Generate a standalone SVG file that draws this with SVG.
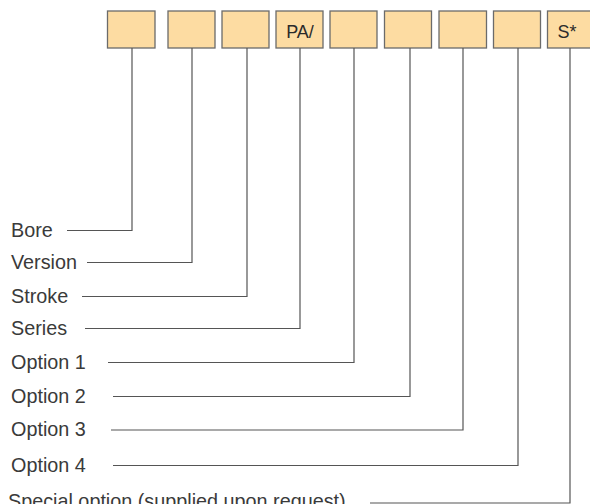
<svg xmlns="http://www.w3.org/2000/svg" width="590" height="504" viewBox="0 0 590 504">
<style>
.box{fill:#fddca2;stroke:#6b6b6b;stroke-width:1.3}
.bt{font-family:"Liberation Sans",Arial,sans-serif;font-size:18px;fill:#2b2b2b;text-anchor:middle}
.lb{font-family:"Liberation Sans",Arial,sans-serif;font-size:19.8px;fill:#3a3a3a}
.cn{fill:none;stroke:#555;stroke-width:1.2}
</style>
<rect width="590" height="504" fill="#fff"/>
<g id="box1"><rect class="box" x="107.5" y="11" width="47.5" height="37"/></g>
<g id="box2"><rect class="box" x="168" y="11" width="47" height="37"/></g>
<g id="box3"><rect class="box" x="222" y="11" width="47" height="37"/></g>
<g id="box4"><rect class="box" x="276" y="11" width="47" height="37"/><text class="bt" x="300" y="37.5">PA/</text></g>
<g id="box5"><rect class="box" x="330" y="11" width="47" height="37"/></g>
<g id="box6"><rect class="box" x="384.5" y="11" width="47" height="37"/></g>
<g id="box7"><rect class="box" x="439" y="11" width="47.5" height="37"/></g>
<g id="box8"><rect class="box" x="493.5" y="11" width="47" height="37"/></g>
<g id="box9"><rect class="box" x="547.5" y="11" width="47" height="37"/><text class="bt" x="567" y="37.5">S*</text></g>
<g id="labels">
<text class="lb" x="11" y="237">Bore</text>
<text class="lb" x="11" y="269">Version</text>
<text class="lb" x="11" y="303">Stroke</text>
<text class="lb" x="11" y="335">Series</text>
<text class="lb" x="11" y="369">Option 1</text>
<text class="lb" x="11" y="403">Option 2</text>
<text class="lb" x="11" y="436">Option 3</text>
<text class="lb" x="11" y="472">Option 4</text>
<text class="lb" x="8" y="508">Special option (supplied upon request)</text>
</g>
<g id="connectors">
<path class="cn" d="M67,230.5H132V48"/>
<path class="cn" d="M87,262.5H192V48"/>
<path class="cn" d="M82,296.5H247V48"/>
<path class="cn" d="M85,328.5H300V48"/>
<path class="cn" d="M108,362.5H354V48"/>
<path class="cn" d="M113,396.5H410V48"/>
<path class="cn" d="M111,430H463V48"/>
<path class="cn" d="M113,465.5H518V48"/>
<path class="cn" d="M370,503H570V48"/>
</g>
</svg>
